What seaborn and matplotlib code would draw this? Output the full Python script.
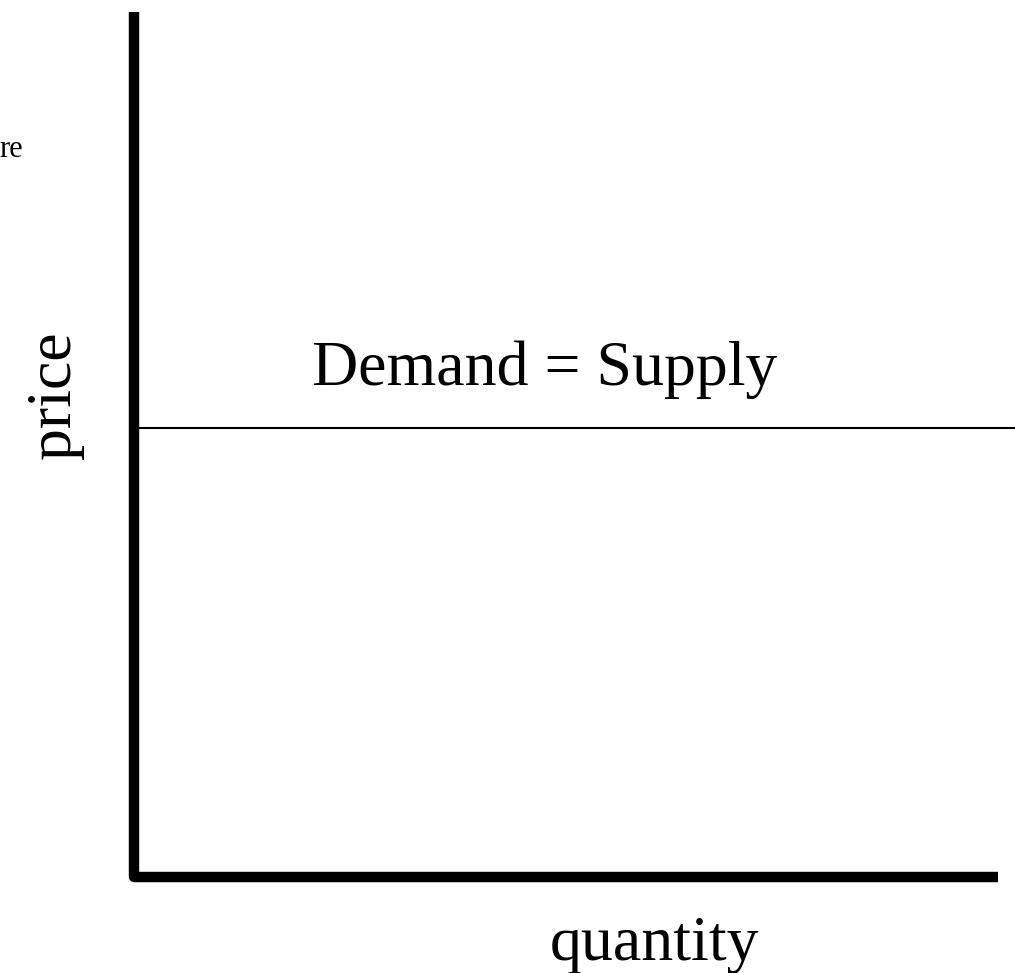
import matplotlib
matplotlib.use("Agg")
import matplotlib.pyplot as plt
import seaborn as sns
import pandas as pd

sns.set_theme(style="white")
plt.rcParams['font.family'] = ['Liberation Serif', 'DejaVu Serif']

# data
quantity = [0.0, 10.0]
price = [5.19, 5.19]
line_label = "Demand = Supply"
x_label = "quantity"
y_label = "price"
corner_text = "re"

W, H = 1015, 973
fig = plt.figure(figsize=(W / 100, H / 100), dpi=100)
ox, oy, top = 134, 877, 12
ax = fig.add_axes([ox / W, 1 - oy / H, (W - ox) / W, (oy - top) / H])
ax.set_xlim(0, 10)
ax.set_ylim(0, 10)
for s in ax.spines.values():
    s.set_visible(False)
ax.set_xticks([])
ax.set_yticks([])
ax.set_facecolor("white")

df = pd.DataFrame({"quantity": quantity, "price": price})
sns.lineplot(data=df, x="quantity", y="price", ax=ax, color="black",
             linewidth=1.5, clip_on=False)

# axes L-shape
x_end = (998 - ox) / (W - ox) * 10
ax.plot([0, 0, x_end], [10, 0, 0], color="black", linewidth=7.5,
        solid_joinstyle="round", solid_capstyle="butt", clip_on=False)

ax.text((312 - ox) / (W - ox) * 10, (oy - 385) / (oy - top) * 10, line_label,
        fontsize=46, ha="left", va="baseline", color="black")
ax.set_xlabel("")
ax.set_ylabel("")

fig.text(55 / W, 1 - 395 / H, y_label, rotation=90, fontsize=46,
         ha="center", va="center", color="black")
fig.text(654 / W, 1 - 960 / H, x_label, fontsize=46,
         ha="center", va="baseline", color="black")
fig.text(-1 / W, 1 - 157 / H, corner_text, fontsize=22,
         ha="left", va="baseline", color="black")

fig.savefig("out.png", dpi=100, facecolor="white")
